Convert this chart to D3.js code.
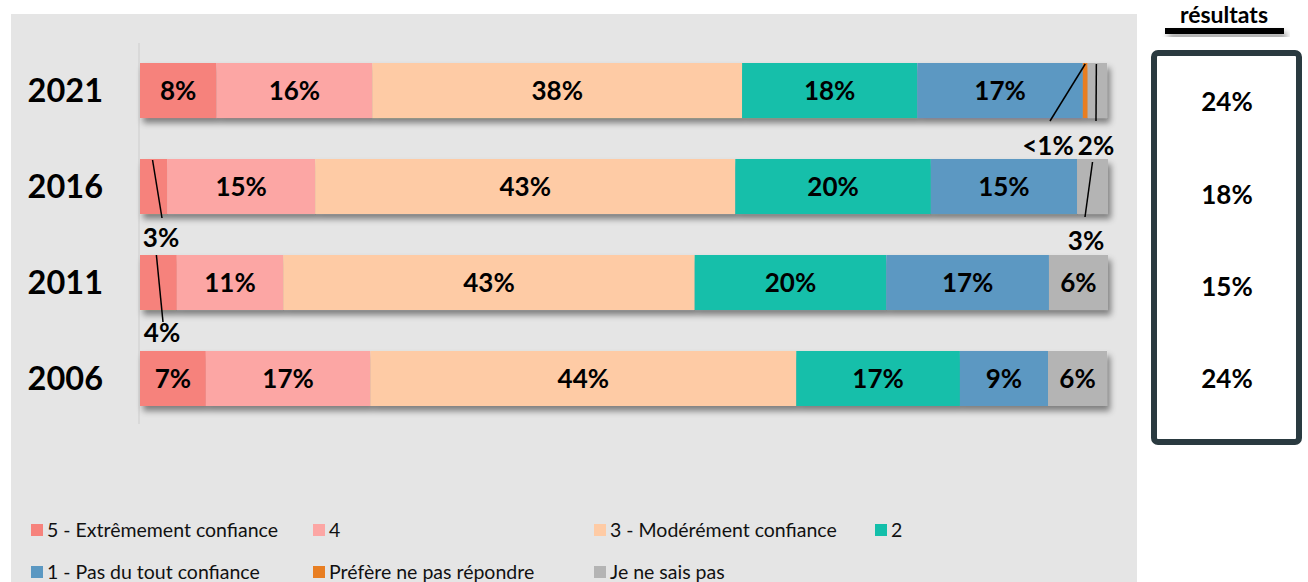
<!DOCTYPE html>
<html>
<head>
<meta charset="utf-8">
<script src="https://cdn.jsdelivr.net/npm/d3@7"></script>
<style>
  body { margin: 0; background: #fff; }
  svg { display: block; font-family: Lato, "Open Sans", sans-serif; }
</style>
</head>
<body>
<svg id="chart" width="1308" height="582"></svg>
<script>
// data
var years = ['2021', '2016', '2011', '2006'];
var categories = ['5 - Extrêmement confiance', '4', '3 - Modérément confiance', '2',
                  '1 - Pas du tout confiance', 'Préfère ne pas répondre', 'Je ne sais pas'];
var colors = ['#f6827c', '#fca6a4', '#fecba5', '#13bfaa', '#5b98c2', '#e87e22', '#b4b4b4'];
var values2021 = [7.9, 16.1, 38.2, 18.1, 17.1, 0.5, 2.0];
var values2016 = [2.8, 15.3, 43.4, 20.2, 15.1, 0, 3.2];
var values2011 = [3.8, 11.0, 42.5, 19.8, 16.8, 0, 6.1];
var values2006 = [6.8, 17.0, 44.0, 16.9, 9.1, 0, 6.1];
var labels2021 = ['8%', '16%', '38%', '18%', '17%', '<1%', '2%'];
var labels2016 = ['3%', '15%', '43%', '20%', '15%', '', '3%'];
var labels2011 = ['4%', '11%', '43%', '20%', '17%', '', '6%'];
var labels2006 = ['7%', '17%', '44%', '17%', '9%', '', '6%'];
var sideResults = ['24%', '18%', '15%', '24%'];

var allValues = [values2021, values2016, values2011, values2006];
var allLabels = [labels2021, labels2016, labels2011, labels2006];

var svg = d3.select('#chart');

var defs = svg.append('defs');
var shadow = defs.append('filter').attr('id', 'shadow')
  .attr('x', '-5%').attr('y', '-20%').attr('width', '110%').attr('height', '160%');
shadow.append('feDropShadow').attr('dx', 3).attr('dy', 5).attr('stdDeviation', 3)
  .attr('flood-color', '#000').attr('flood-opacity', 0.45);

// grey panel
svg.append('rect').attr('x', 11).attr('y', 14).attr('width', 1126).attr('height', 568)
  .attr('fill', '#e5e5e5');

var x = d3.scaleLinear().domain([0, 100]).range([140, 1108]);
var y = d3.scaleBand().domain(years).range([43.8, 425.2]).paddingInner(0.427).paddingOuter(0.2);
var ySide = d3.scalePoint().domain(years).range([102, 379]);

// vertical axis line
svg.append('line').attr('x1', 139).attr('x2', 139).attr('y1', 43).attr('y2', 424)
  .attr('stroke', '#d4d4d4').attr('stroke-width', 1.5);

// year labels
svg.selectAll('.year').data(years).enter().append('text')
  .attr('x', 103).attr('y', d => y(d) + y.bandwidth() / 2)
  .attr('dy', '0.36em').attr('text-anchor', 'end')
  .attr('font-size', 32.5).attr('font-weight', 'bold').text(d => d);

// bars
years.forEach(function(yr, i) {
  var vals = allValues[i];
  var labs = allLabels[i];
  var segs = [];
  var acc = 0;
  vals.forEach(function(v, j) {
    segs.push({x0: acc, x1: acc + v, c: j, label: labs[j]});
    acc += v;
  });
  var g = svg.append('g');
  g.append('g').attr('filter', 'url(#shadow)').selectAll('rect').data(segs).enter().append('rect')
    .attr('x', d => x(d.x0)).attr('width', d => x(d.x1) - x(d.x0))
    .attr('y', y(yr)).attr('height', y.bandwidth())
    .attr('fill', d => colors[d.c]);
  // labels inside wide segments
  g.selectAll('text').data(segs.filter(d => d.x1 - d.x0 > 5)).enter().append('text')
    .attr('x', d => (x(d.x0) + x(d.x1)) / 2).attr('y', y(yr) + y.bandwidth() / 2)
    .attr('dy', '0.36em').attr('text-anchor', 'middle')
    .attr('font-size', 26).attr('font-weight', 'bold').text(d => d.label);
});

// small segments: leader lines with labels outside
// each line goes from a point on the segment (dx from its centre) to a point near its label
var callouts = [
  {yr: '2021', c: 5, top: 1, dx: 0, ex: 1050, ey: 121, tx: 1048, ty: 146},
  {yr: '2021', c: 6, top: 1, dx: -1, ex: 1096, ey: 121, tx: 1096, ty: 146},
  {yr: '2016', c: 6, top: 3, dx: 0, ex: 1085, ey: 217, tx: 1086, ty: 241},
  {yr: '2016', c: 0, top: 1, dx: -1, ex: 162, ey: 218, tx: 161, ty: 238},
  {yr: '2011', c: 0, top: 0, dx: -2, ex: 163, ey: 322, tx: 162, ty: 333}
];
callouts.forEach(function(o) {
  var i = years.indexOf(o.yr);
  var vals = allValues[i];
  var x0 = d3.sum(vals.slice(0, o.c));
  var xm = x(x0 + vals[o.c] / 2) + o.dx;
  svg.append('line').attr('x1', xm).attr('y1', y(o.yr) + o.top).attr('x2', o.ex).attr('y2', o.ey)
    .attr('stroke', '#000').attr('stroke-width', 1.5);
  svg.append('text').attr('x', o.tx).attr('y', o.ty).attr('dy', '0.36em')
    .attr('text-anchor', 'middle').attr('font-size', 26).attr('font-weight', 'bold')
    .text(allLabels[i][o.c]);
});

// right box
svg.append('text').attr('x', 1224).attr('y', 23).attr('text-anchor', 'middle')
  .attr('font-size', 23).attr('font-weight', 'bold').text('résultats');
svg.append('rect').attr('x', 1165).attr('y', 28).attr('width', 119).attr('height', 6)
  .attr('fill', '#000').attr('filter', 'url(#shadow)');
svg.append('rect').attr('x', 1154).attr('y', 53).attr('width', 145).attr('height', 389)
  .attr('rx', 4).attr('fill', '#fff').attr('stroke', '#2a3a40').attr('stroke-width', 6);
svg.selectAll('.side').data(sideResults).enter().append('text')
  .attr('x', 1227).attr('y', (d, i) => ySide(years[i]))
  .attr('dy', '0.36em').attr('text-anchor', 'middle')
  .attr('font-size', 26).attr('font-weight', 'bold').text(d => d);

// legend
var legendPos = [[31, 530], [313, 530], [594, 530], [875, 530], [31, 572], [313, 572], [594, 572]];
var lg = svg.selectAll('.lg').data(categories).enter().append('g')
  .attr('transform', (d, i) => 'translate(' + legendPos[i][0] + ',' + legendPos[i][1] + ')');
lg.append('rect').attr('x', 0).attr('y', -6).attr('width', 12).attr('height', 12)
  .attr('fill', (d, i) => colors[i]);
lg.append('text').attr('x', 16).attr('y', 0).attr('dy', '0.35em')
  .attr('font-size', 19.5).attr('fill', '#111').text(d => d);
</script>
</body>
</html>
